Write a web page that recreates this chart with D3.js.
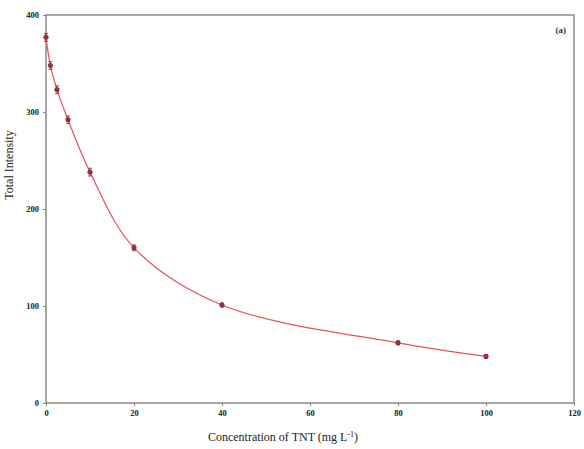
<!DOCTYPE html>
<html>
<head>
<meta charset="utf-8">
<script src="https://cdn.jsdelivr.net/npm/d3@7"></script>
<style>
  body { margin: 0; background: #fff; }
  svg text { font-family: "Liberation Serif", "DejaVu Serif", serif; }
</style>
</head>
<body>
<svg id="chart" width="584" height="449"></svg>
<script>
// concentration (mg/L) vs total intensity
const conc = [0, 1, 2.5, 5, 10, 20, 40, 80, 100];
const intensity = [377, 348, 323, 292, 238, 160, 101, 62, 48];
const errs = [4, 4, 4, 4, 4, 3, 2, 2, 2];
const xTicks = [0, 20, 40, 60, 80, 100, 120];
const yTicks = [0, 100, 200, 300, 400];

const svg = d3.select("#chart");
const m = { left: 46, right: 10, top: 15, bottom: 46 };
const W = 584, H = 449;

const x = d3.scaleLinear().domain([0, 120]).range([m.left, W - m.right]);
const y = d3.scaleLinear().domain([0, 400]).range([H - m.bottom, m.top]);

const frameColor = "#8a8a8a";

// frame
svg.append("rect")
  .attr("x", x(0)).attr("y", y(400))
  .attr("width", x(120) - x(0)).attr("height", y(0) - y(400))
  .attr("fill", "none").attr("stroke", frameColor).attr("stroke-width", 1.5);

const gx = svg.append("g").attr("transform", `translate(0,${y(0)})`)
  .call(d3.axisBottom(x).tickValues(xTicks).tickSize(3).tickPadding(4));
const gy = svg.append("g").attr("transform", `translate(${x(0)},0)`)
  .call(d3.axisLeft(y).tickValues(yTicks).tickSize(3).tickPadding(4));

[gx, gy].forEach(g => {
  g.select(".domain").remove();
  g.selectAll("line").attr("stroke", frameColor);
  g.selectAll("text").attr("font-size", 8.5).attr("font-weight", "bold").attr("fill", "#222")
    .style("font-family", "'Liberation Serif', serif");
});

const data = conc.map((c, i) => ({ c, v: intensity[i], e: errs[i] }));

// smooth fitted line
svg.append("path")
  .datum(data)
  .attr("fill", "none")
  .attr("stroke", "#e8505a")
  .attr("stroke-width", 1.2)
  .attr("d", d3.line().x(d => x(d.c)).y(d => y(d.v)).curve(d3.curveCatmullRom.alpha(0.5)));

// error bars
const eb = svg.append("g").attr("stroke", "#8a2a35").attr("stroke-width", 0.8);
data.forEach(d => {
  eb.append("line").attr("x1", x(d.c)).attr("x2", x(d.c)).attr("y1", y(d.v + d.e)).attr("y2", y(d.v - d.e));
  eb.append("line").attr("x1", x(d.c) - 2).attr("x2", x(d.c) + 2).attr("y1", y(d.v + d.e)).attr("y2", y(d.v + d.e));
  eb.append("line").attr("x1", x(d.c) - 2).attr("x2", x(d.c) + 2).attr("y1", y(d.v - d.e)).attr("y2", y(d.v - d.e));
});

svg.append("g").selectAll("circle").data(data).join("circle")
  .attr("cx", d => x(d.c)).attr("cy", d => y(d.v)).attr("r", 2.3)
  .attr("fill", "#9a3040").attr("stroke", "#7a2030").attr("stroke-width", 0.6);

// labels
svg.append("text")
  .attr("x", 283).attr("y", 441)
  .attr("text-anchor", "middle").attr("font-size", 12).attr("fill", "#222")
  .html("Concentration of TNT (mg L<tspan dy='-4' font-size='8'>-1</tspan><tspan dy='4'>)</tspan>");

svg.append("text")
  .attr("transform", "translate(13,165) rotate(-90)")
  .attr("text-anchor", "middle").attr("font-size", 12).attr("fill", "#222")
  .text("Total Intensity");

svg.append("text")
  .attr("x", 566).attr("y", 33)
  .attr("text-anchor", "end").attr("font-size", 9).attr("font-weight", "bold").attr("fill", "#333")
  .text("(a)");
</script>
</body>
</html>
